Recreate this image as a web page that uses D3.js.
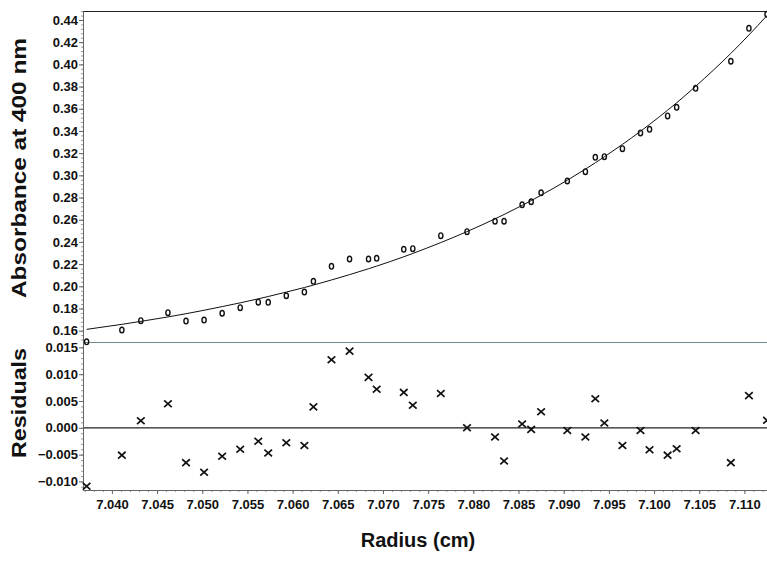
<!DOCTYPE html>
<html>
<head>
<meta charset="utf-8">
<script src="https://cdn.jsdelivr.net/npm/d3@7"></script>
<style>
  html, body { margin: 0; padding: 0; background: #fff; }
  svg { display: block; }
  text { font-family: "Liberation Sans", Arial, sans-serif; font-weight: bold; fill: #111; }
</style>
</head>
<body>
<svg id="chart" width="767" height="563"></svg>
<script>
// Radial positions of the scan points (cm)
const radius = [7.0372, 7.0411, 7.0432, 7.0462, 7.0482, 7.0502, 7.0522, 7.0542, 7.0562, 7.0573,
                7.0593, 7.0613, 7.0623, 7.0643, 7.0663, 7.0684, 7.0693, 7.0723, 7.0733, 7.0764,
                7.0793, 7.0824, 7.0834, 7.0854, 7.0864, 7.0875, 7.0904, 7.0924, 7.0935, 7.0945,
                7.0965, 7.0985, 7.0995, 7.1015, 7.1025, 7.1046, 7.1085, 7.1105, 7.1125];
// Measured absorbance at 400 nm
const absorbance = [0.1500, 0.1606, 0.1690, 0.1762, 0.1687, 0.1696, 0.1757, 0.1807, 0.1857, 0.1856,
                    0.1915, 0.1948, 0.2045, 0.2180, 0.2246, 0.2246, 0.2252, 0.2333, 0.2339, 0.2456,
                    0.2492, 0.2586, 0.2586, 0.2735, 0.2762, 0.2843, 0.2949, 0.3033, 0.3162, 0.3168,
                    0.3240, 0.3382, 0.3415, 0.3535, 0.3613, 0.3784, 0.4028, 0.4325, 0.4451];
// Fitted absorbance at the same radii
const fitted = [0.1612, 0.1657, 0.1684, 0.1724, 0.1753, 0.1784, 0.1817, 0.1851, 0.1887, 0.1908,
                0.1948, 0.1989, 0.2011, 0.2057, 0.2105, 0.2158, 0.2182, 0.2266, 0.2296, 0.2394,
                0.2493, 0.2608, 0.2647, 0.2729, 0.2772, 0.2821, 0.2956, 0.3056, 0.3113, 0.3167,
                0.3279, 0.3397, 0.3459, 0.3587, 0.3654, 0.3802, 0.4099, 0.4265, 0.4440];
// Residuals of the fit
const residuals = [-0.0109, -0.0051, 0.0013, 0.0045, -0.0065, -0.0083, -0.0053, -0.0040, -0.0025, -0.0047,
                   -0.0028, -0.0033, 0.0039, 0.0127, 0.0143, 0.0094, 0.0072, 0.0066, 0.0042, 0.0064,
                   0.0000, -0.0017, -0.0062, 0.0007, -0.0003, 0.0030, -0.0005, -0.0017, 0.0054, 0.0009,
                   -0.0033, -0.0005, -0.0041, -0.0051, -0.0039, -0.0005, -0.0065, 0.0060, 0.0014];

const absTicks = [0.16, 0.18, 0.20, 0.22, 0.24, 0.26, 0.28, 0.30, 0.32, 0.34, 0.36, 0.38, 0.40, 0.42, 0.44];
const resTicks = [-0.010, -0.005, 0.000, 0.005, 0.010, 0.015];
const radiusTicks = [7.040, 7.045, 7.050, 7.055, 7.060, 7.065, 7.070, 7.075, 7.080, 7.085,
                     7.090, 7.095, 7.100, 7.105, 7.110];

const svg = d3.select("#chart");
const plotLeft = 83, plotRight = 767, plotTop = 11, plotMid = 342, plotBottom = 490;

const x = d3.scaleLinear().domain([7.0368, 7.1125]).range([plotLeft, plotRight]);
const yAbs = d3.scaleLinear().domain([0.1498, 0.4481]).range([plotMid, plotTop]);
const yRes = d3.scaleLinear().domain([-0.0116, 0.0160]).range([plotBottom, plotMid]);

const pts = radius.map((r, i) => ({ r, a: absorbance[i], f: fitted[i], e: residuals[i] }));

// frame lines
svg.append("line").attr("x1", plotLeft).attr("x2", plotRight).attr("y1", plotTop + 0.5).attr("y2", plotTop + 0.5)
  .attr("stroke", "#222").attr("stroke-width", 1.2);
svg.append("line").attr("x1", plotLeft).attr("x2", plotRight).attr("y1", plotMid + 0.5).attr("y2", plotMid + 0.5)
  .attr("stroke", "#6f8c8c").attr("stroke-width", 1);
svg.append("line").attr("x1", plotLeft).attr("x2", plotRight).attr("y1", yRes(0)).attr("y2", yRes(0))
  .attr("stroke", "#222").attr("stroke-width", 1.2);

function styleAxis(g) {
  g.select(".domain").attr("stroke", "#666").attr("stroke-width", 1);
  g.selectAll(".tick line").attr("stroke", "#666");
  g.selectAll(".tick text").attr("font-size", "13px").attr("font-weight", "bold")
    .attr("font-family", "Liberation Sans, Arial, sans-serif").attr("fill", "#111");
}

// minor ticks on the left axis
svg.append("g").attr("transform", `translate(${plotLeft},0)`)
  .call(d3.axisLeft(yAbs).tickValues(d3.range(0.152, 0.448, 0.004)).tickSize(2).tickFormat(""))
  .call(g => { g.select(".domain").remove(); g.selectAll("line").attr("stroke", "#999"); });
svg.append("g").attr("transform", `translate(${plotLeft},0)`)
  .call(d3.axisLeft(yRes).tickValues(d3.range(-0.011, 0.0155, 0.001)).tickSize(2).tickFormat(""))
  .call(g => { g.select(".domain").remove(); g.selectAll("line").attr("stroke", "#999"); });
// minor ticks on the bottom axis
svg.append("g").attr("transform", `translate(0,${plotBottom})`)
  .call(d3.axisBottom(x).tickValues(d3.range(7.037, 7.1125, 0.001)).tickSize(2).tickFormat(""))
  .call(g => { g.select(".domain").remove(); g.selectAll("line").attr("stroke", "#999"); });

// main axes
svg.append("g").attr("transform", `translate(${plotLeft},0)`)
  .call(d3.axisLeft(yAbs).tickValues(absTicks).tickFormat(d3.format(".2f")).tickSize(4).tickPadding(1).tickSizeOuter(0))
  .call(styleAxis);
svg.append("g").attr("transform", `translate(${plotLeft},0)`)
  .call(d3.axisLeft(yRes).tickValues(resTicks).tickFormat(d3.format(".3f")).tickSize(4).tickPadding(1).tickSizeOuter(0))
  .call(styleAxis);
svg.append("g").attr("transform", `translate(0,${plotBottom})`)
  .call(d3.axisBottom(x).tickValues(radiusTicks).tickFormat(d3.format(".3f")).tickSize(4).tickPadding(6).tickSizeOuter(0))
  .call(styleAxis);

// fitted curve
svg.append("path").datum(pts)
  .attr("fill", "none").attr("stroke", "#111").attr("stroke-width", 1)
  .attr("d", d3.line().x(d => x(d.r)).y(d => yAbs(d.f)).curve(d3.curveMonotoneX));

// measured points
svg.append("g").selectAll("ellipse").data(pts).join("ellipse")
  .attr("cx", d => x(d.r)).attr("cy", d => yAbs(d.a))
  .attr("rx", 2.1).attr("ry", 2.8)
  .attr("fill", "none").attr("stroke", "#111").attr("stroke-width", 1.4);

// residual crosses
svg.append("g").selectAll("path").data(pts).join("path")
  .attr("transform", d => `translate(${x(d.r)},${yRes(d.e)})`)
  .attr("d", "M-3.8,-3.4L3.8,3.4M-3.8,3.4L3.8,-3.4")
  .attr("fill", "none").attr("stroke", "#111").attr("stroke-width", 1.7);

// axis titles
svg.append("text").attr("transform", "translate(26,168) rotate(-90)")
  .attr("text-anchor", "middle").attr("font-size", "20px")
  .attr("textLength", 260).attr("lengthAdjust", "spacingAndGlyphs")
  .text("Absorbance at 400 nm");
svg.append("text").attr("transform", "translate(26,403) rotate(-90)")
  .attr("text-anchor", "middle").attr("font-size", "20px")
  .attr("textLength", 110).attr("lengthAdjust", "spacingAndGlyphs")
  .text("Residuals");
svg.append("text").attr("x", 418).attr("y", 547)
  .attr("text-anchor", "middle").attr("font-size", "20px")
  .text("Radius (cm)");
</script>
</body>
</html>
